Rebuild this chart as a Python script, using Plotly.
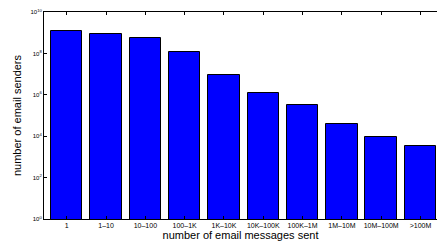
import plotly.graph_objects as go

categories = ["1", "1\u201310", "10\u2013100", "100\u20131K", "1K\u201310K", "10K\u2013100K",
              "100K\u20131M", "1M\u201310M", "10M\u2013100M", ">100M"]
senders = [1.15e9, 9.0e8, 5.3e8, 1.15e8, 9.5e6, 1.2e6, 3.4e5, 4.0e4, 8.9e3, 3.4e3]
ytick_vals = [1e0, 1e2, 1e4, 1e6, 1e8, 1e10]
ytick_text = ["10<sup>0</sup>", "10<sup>2</sup>", "10<sup>4</sup>", "10<sup>6</sup>",
              "10<sup>8</sup>", "10<sup>10</sup>"]

xpos = list(range(len(categories)))

fig = go.Figure(go.Bar(
    x=xpos, y=senders, width=0.8,
    marker=dict(color="#0000ff", line=dict(color="black", width=1)),
))

fig.update_layout(
    width=437, height=244,
    margin=dict(l=44, r=0, t=12, b=25),
    paper_bgcolor="white", plot_bgcolor="white",
    font=dict(family="Liberation Sans, Arial, sans-serif", color="black"),
    showlegend=False,
    bargap=0,
)
fig.update_xaxes(
    range=[-0.578, 9.42], tickmode="array", tickvals=xpos, ticktext=categories,
    tickfont=dict(size=7, color="black"), ticks="inside", ticklen=3, tickcolor="black",
    showline=True, linecolor="black", linewidth=1, mirror="ticks",
    showgrid=False, zeroline=False, automargin=False,
    title=dict(text="number of email messages sent", font=dict(size=11, color="black"), standoff=2),
)
fig.update_yaxes(
    type="log", range=[0, 10], tickmode="array", tickvals=ytick_vals, ticktext=ytick_text,
    tickfont=dict(size=6, color="black"), ticks="inside", ticklen=3, tickcolor="black",
    showline=True, linecolor="black", linewidth=1, mirror=False,
    showgrid=False, zeroline=False, automargin=False,
    title=dict(text="number of email senders", font=dict(size=11, color="black"), standoff=6),
)

fig.write_html("out.html", config={"displayModeBar": False},
               post_script="document.body.style.margin='0';document.body.style.padding='0';")
